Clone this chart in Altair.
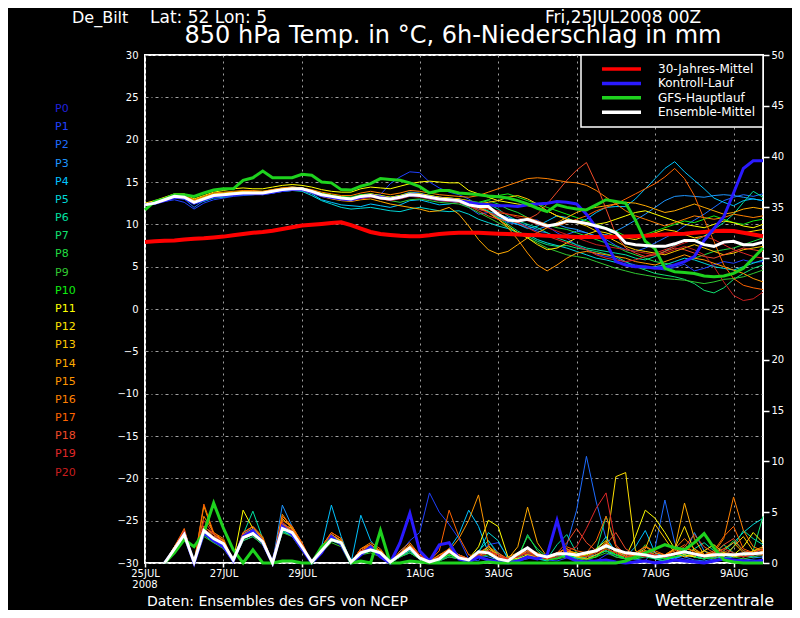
import altair as alt
import pandas as pd

FONT = "DejaVu Sans"
GRID = "#a0a0a0"
STEP = 0.25          # 6-hourly steps, in days from 25JUL2008 00Z
PREC_START = 2       # precipitation starts at +12h

x_domain = [0, 15.75]
tick_days = [0, 2, 4, 7, 9, 11, 13, 15]
tick_labels = ["25JUL", "27JUL", "29JUL", "1AUG", "3AUG", "5AUG", "7AUG", "9AUG"]
temp_ticks = list(range(-30, 31, 5))
prec_ticks = list(range(0, 51, 5))

member_names = [f"P{i}" for i in range(21)]
member_colors = ["#2121dd", "#2040ff", "#1e6cff", "#1e96ff", "#00c3ff", "#00d7d7",
                 "#00e0a0", "#10e070", "#20dc40", "#30c830", "#10ee10", "#ffff00",
                 "#ffe000", "#ffc800", "#ffaa00", "#ff9600", "#ff8000", "#ff6400",
                 "#f04a28", "#e02828", "#c81e1e"]

legend_names = ["30-Jahres-Mittel", "Kontroll-Lauf", "GFS-Hauptlauf", "Ensemble-Mittel"]
legend_colors = ["#ff0000", "#2a1aff", "#1ed21e", "#ffffff"]

# ---------------- 850 hPa temperature ----------------
temp_clim = [7.9,8.0,8.05,8.1,8.2,8.3,8.35,8.45,8.55,8.7,8.85,9.0,9.1,9.25,9.45,9.65,9.85,
             9.95,10.05,10.15,10.25,9.9,9.5,9.1,8.85,8.75,8.65,8.6,8.6,8.7,8.85,8.95,9.0,
             9.0,9.0,8.95,8.9,8.85,8.8,8.75,8.7,8.65,8.6,8.55,8.5,8.5,8.5,8.5,8.5,
             8.55,8.6,8.65,8.75,8.8,8.85,8.9,9.0,9.1,9.2,9.25,9.2,9.0,8.8,8.6]
temp_ctrl = [12.3,12.5,12.8,13.2,13.1,12.5,12.9,13.3,13.4,13.5,13.6,13.6,13.6,13.8,14.0,14.1,14.1,
             13.8,13.4,13.2,13.0,12.9,13.2,13.4,13.2,13.0,13.2,13.5,13.4,13.2,13.0,12.9,12.8,
             12.6,12.4,12.3,12.2,12.2,12.1,12.3,12.4,12.5,12.7,12.6,12.4,11.2,9.6,7.8,5.6,
             5.2,5.0,5.0,4.8,4.9,5.2,5.6,6.2,8.1,9.5,10.9,13.7,16.6,17.5,17.5]
temp_gfs = [11.7,12.7,13.0,13.5,13.5,13.3,13.7,14.05,14.2,14.2,15.2,15.5,16.3,15.5,15.5,15.5,15.9,
            15.8,15.0,14.9,14.1,14.05,14.5,14.8,15.4,15.3,15.2,14.9,14.45,13.7,14.0,14.0,13.7,
            13.6,13.5,13.35,13.25,13.1,12.8,12.4,11.9,11.5,12.3,12.0,11.8,11.7,12.3,12.9,12.7,
            12.5,10.5,8.0,7.1,4.8,4.4,4.3,4.2,3.9,3.8,3.9,4.2,4.8,6.0,7.2]
temp_mean = [12.3,12.5,12.9,13.3,13.2,12.6,13.0,13.4,13.5,13.6,13.7,13.7,13.7,13.9,14.1,14.2,14.2,
             13.9,13.5,13.3,13.1,13.0,13.3,13.4,13.1,13.0,13.2,13.5,13.4,13.2,13.0,12.9,12.8,
             12.3,12.1,12.1,11.2,10.5,10.4,10.6,10.2,9.8,10.0,10.4,10.3,10.1,9.8,9.5,9.0,
             7.8,7.6,7.5,7.4,7.4,7.7,8.1,8.1,7.6,7.4,7.9,8.0,7.6,7.6,7.9]

temp_members = {
    "P1": [12.2,12.5,12.7,12.9,12.6,11.8,12.5,12.9,13.1,13.3,13.4,13.5,13.6,13.7,14.0,14.1,14.0,
           13.7,13.3,13.1,13.0,12.9,13.2,13.4,13.5,14.8,15.6,16.2,16.1,15.0,14.3,13.8,13.5,
           13.0,12.2,11.5,11.0,10.8,10.5,10.6,10.5,9.8,9.0,8.4,7.5,7.0,6.5,6.2,6.0,
           5.5,5.2,5.0,4.8,4.6,4.9,5.3,4.5,4.8,5.2,5.6,5.4,5.8,5.5,5.6],
    "P2": [12.3,12.6,12.8,13.2,13.0,12.0,12.8,13.3,13.4,13.5,13.7,13.8,13.8,14.0,14.2,14.3,14.2,
           13.9,13.4,13.2,13.1,13.0,13.4,13.5,13.2,13.0,13.1,13.4,13.3,13.0,12.8,12.7,12.6,
           12.0,11.2,11.4,10.8,10.2,10.0,9.6,9.2,9.0,8.5,8.8,9.2,9.0,8.6,8.2,7.5,
           7.0,6.8,7.2,7.8,8.4,9.0,9.8,10.5,11.2,12.0,12.8,13.2,13.5,13.3,13.6],
    "P3": [12.4,12.7,13.0,13.2,13.1,12.5,12.9,13.5,13.6,13.7,13.8,13.9,13.8,14.0,14.2,14.4,14.3,
           14.0,13.6,13.4,13.2,13.2,13.5,13.6,13.4,13.2,13.4,13.8,13.7,13.4,13.2,13.1,13.0,
           12.6,12.0,11.5,11.2,10.8,10.2,9.8,9.4,9.8,10.0,9.6,9.4,9.0,8.6,8.8,9.2,
           9.8,10.5,11.2,12.0,12.8,13.3,13.4,13.3,13.2,13.4,13.5,13.4,13.2,13.0,12.8],
    "P4": [12.3,12.4,12.8,13.2,13.0,12.4,12.8,13.2,13.3,13.5,13.6,13.6,13.5,13.7,13.9,14.0,14.0,
           13.6,12.9,12.6,12.3,12.2,12.1,12.4,12.2,12.0,12.3,12.8,12.9,12.6,12.3,12.4,12.6,
           12.2,11.8,11.5,10.8,10.4,10.0,9.5,9.8,10.4,11.0,10.8,10.2,10.6,11.4,12.0,12.1,
           12.1,13.0,14.2,15.4,16.6,17.4,16.2,15.2,14.2,13.1,12.6,12.2,12.8,13.0,12.8],
    "P5": [12.2,12.5,12.8,13.1,13.0,12.5,12.7,13.1,13.2,13.4,13.5,13.5,13.6,13.7,13.9,14.0,13.9,
           13.4,12.8,12.4,12.0,11.8,11.9,12.0,11.8,11.6,11.5,11.8,12.0,11.8,11.6,11.5,11.6,
           11.2,10.6,10.2,9.8,9.5,9.0,8.8,8.2,7.8,7.5,7.2,6.8,6.4,6.0,5.8,5.5,
           5.3,5.0,4.8,5.0,5.2,5.6,6.0,5.8,5.4,5.0,4.8,4.6,5.0,5.4,5.8],
    "P6": [12.4,12.6,13.0,13.4,13.3,12.7,13.1,13.5,13.6,13.7,13.8,13.8,13.8,14.0,14.2,14.3,14.2,
           13.9,13.6,13.4,13.2,13.1,13.4,13.5,13.3,13.0,13.2,13.6,13.5,13.3,13.1,13.0,12.9,
           12.5,12.3,12.4,11.8,11.0,10.4,10.0,9.6,9.0,8.4,8.0,7.6,7.2,7.0,6.8,6.6,
           6.4,6.0,5.8,6.2,6.8,7.5,8.2,8.0,8.6,9.4,10.2,11.2,12.6,13.9,13.2],
    "P7": [12.3,12.6,12.9,13.3,13.2,12.6,13.0,13.5,13.6,13.7,13.8,13.8,13.8,14.0,14.1,14.2,14.1,
           13.8,13.5,13.3,13.1,13.0,13.3,13.4,13.2,13.0,13.3,13.5,13.4,13.2,13.0,12.9,12.9,
           12.4,12.0,11.6,10.8,10.0,9.2,8.6,8.0,7.6,7.4,7.5,7.2,7.0,6.8,6.5,6.2,
           5.6,5.0,4.6,4.2,4.0,3.8,3.5,3.0,2.2,1.9,2.5,3.5,4.2,4.8,5.2],
    "P8": [12.4,12.6,13.0,13.3,13.2,12.7,13.1,13.5,13.6,13.7,13.8,13.7,13.7,13.9,14.1,14.2,14.2,
           13.9,13.5,13.3,13.2,13.1,13.4,13.5,13.3,13.1,13.3,13.6,13.5,13.3,13.1,13.0,12.9,
           12.6,12.5,12.8,12.4,11.8,11.4,10.8,10.2,10.0,9.6,9.4,9.0,8.6,8.2,7.8,7.4,
           6.8,6.4,6.0,5.6,5.4,5.2,5.6,6.0,6.4,6.8,7.0,7.2,7.6,8.0,8.4],
    "P9": [12.3,12.5,12.9,13.2,13.1,12.6,12.9,13.3,13.4,13.6,13.6,13.7,13.6,13.8,14.0,14.1,14.1,
           13.8,13.4,13.2,13.0,12.9,13.1,13.3,13.1,12.8,12.6,12.9,13.0,12.8,12.6,12.5,12.4,
           12.0,11.4,10.8,10.2,9.6,9.0,8.4,7.8,7.2,6.8,6.4,6.2,6.0,5.6,5.2,4.8,
           4.5,4.2,4.0,3.8,3.6,3.5,3.4,3.2,3.0,3.2,3.5,3.6,3.8,4.2,4.6],
    "P10": [12.2,12.6,13.0,13.4,13.3,12.8,13.2,13.6,13.7,13.8,13.9,13.8,13.8,14.0,14.2,14.3,14.3,
            14.0,13.7,13.5,13.3,13.2,13.5,13.6,13.4,13.2,13.4,13.7,13.6,13.4,13.2,13.1,13.0,
            12.8,12.6,12.9,13.4,13.6,13.2,12.8,12.4,12.0,11.6,11.2,10.8,10.4,10.0,9.6,9.2,
            8.6,8.4,8.8,9.2,9.6,10.0,10.4,10.2,10.6,11.0,10.6,10.2,10.0,10.4,10.6],
    "P11": [12.5,12.8,13.2,13.6,13.6,13.0,13.4,13.8,14.0,14.2,14.3,14.2,14.2,14.4,14.6,14.7,14.6,
            14.4,14.1,13.9,13.8,13.8,14.2,14.4,14.3,14.2,14.5,14.8,15.0,15.1,15.0,14.9,14.9,
            14.0,13.6,13.2,12.8,12.6,12.4,12.2,12.0,11.6,11.0,10.6,10.4,10.2,10.0,10.2,10.6,
            11.0,11.4,11.6,11.2,10.8,10.4,10.0,9.8,9.6,10.0,10.4,10.2,9.8,9.6,10.0],
    "P12": [12.4,12.7,13.1,13.5,13.4,12.8,13.2,13.6,13.7,13.8,13.9,13.9,13.9,14.1,14.3,14.4,14.3,
            14.0,13.6,13.4,13.2,13.1,13.4,13.6,13.4,13.2,13.4,13.7,13.6,13.4,13.2,13.1,13.0,
            12.6,12.0,11.4,10.6,9.8,9.0,8.4,7.6,7.0,7.2,7.8,8.4,8.8,9.2,9.0,8.6,
            8.4,8.2,8.6,9.0,9.4,9.2,8.8,8.4,8.6,9.0,9.4,9.2,9.0,9.2,9.4],
    "P13": [12.3,12.6,13.0,13.4,13.3,12.8,13.1,13.5,13.6,13.7,13.8,13.8,13.8,14.0,14.2,14.3,14.2,
            13.9,13.6,13.3,13.1,13.0,13.3,13.5,13.3,13.1,13.3,13.6,13.6,13.4,13.2,13.1,13.0,
            12.8,12.4,12.6,12.8,13.2,13.4,13.0,12.4,11.6,11.0,10.6,10.2,9.8,9.2,8.6,8.0,
            7.4,7.0,6.8,6.6,6.4,6.8,7.2,7.6,7.2,6.8,6.4,6.6,7.0,7.2,7.4],
    "P14": [12.3,12.5,12.9,13.2,13.1,12.5,12.9,13.3,13.4,13.5,13.6,13.6,13.6,13.8,14.0,14.1,14.0,
            13.7,13.3,13.0,12.8,12.7,12.9,13.0,12.7,12.4,12.2,12.0,11.8,11.5,11.6,12.0,11.2,
            9.8,8.2,7.0,6.5,6.8,7.6,8.4,9.0,9.6,10.2,10.8,11.4,11.8,12.0,12.2,12.4,
            12.6,12.5,12.2,11.8,11.4,11.6,12.0,12.4,12.0,11.6,11.2,11.4,11.8,12.0,11.8],
    "P15": [12.4,12.7,13.1,13.4,13.3,12.7,13.1,13.5,13.6,13.7,13.8,13.8,13.7,13.9,14.1,14.2,14.2,
            13.9,13.5,13.3,13.1,13.0,13.3,13.5,13.3,13.1,13.3,13.5,13.4,13.2,13.0,12.9,12.8,
            12.4,12.0,11.4,10.6,9.6,8.2,6.6,5.2,4.5,5.2,6.0,6.6,6.8,6.6,6.4,6.2,
            6.0,5.6,5.4,5.2,5.6,6.0,6.4,6.0,5.8,5.4,5.0,4.6,4.2,3.6,3.2],
    "P16": [12.4,12.7,13.1,13.5,13.4,12.9,13.3,13.7,13.8,13.9,14.0,14.0,13.9,14.1,14.3,14.4,14.3,
            14.1,13.8,13.6,13.4,13.4,13.7,13.9,13.7,13.5,13.7,14.0,13.9,13.7,13.5,13.4,13.3,
            13.2,13.4,13.8,14.2,14.6,15.0,15.4,15.5,15.4,15.2,15.0,14.9,14.6,14.0,13.2,12.4,
            11.6,11.0,10.6,10.2,9.8,10.2,10.6,11.0,10.8,10.6,10.8,11.2,11.0,10.8,11.0],
    "P17": [12.3,12.6,13.0,13.4,13.2,12.7,13.0,13.4,13.5,13.6,13.7,13.7,13.7,13.9,14.1,14.2,14.1,
            13.8,13.4,13.2,13.0,12.9,13.2,13.4,13.2,13.0,13.2,13.5,13.4,13.2,13.0,12.9,12.8,
            12.4,12.0,11.8,11.4,11.2,11.0,10.8,10.4,10.0,9.8,10.2,10.6,11.0,11.6,12.0,12.4,
            13.0,13.6,14.2,14.8,15.6,16.6,15.4,13.4,10.6,8.0,5.2,3.6,2.8,2.5,2.3],
    "P18": [12.4,12.6,13.0,13.3,13.2,12.6,13.0,13.4,13.5,13.6,13.7,13.7,13.7,13.9,14.1,14.2,14.2,
            13.9,13.5,13.3,13.1,13.0,13.3,13.4,13.2,13.0,13.2,13.5,13.4,13.2,13.0,12.9,12.7,
            12.2,11.6,11.0,10.6,10.4,10.2,10.6,11.2,12.4,13.8,15.2,16.4,17.3,14.8,11.8,8.8,
            7.2,6.6,6.2,6.4,6.8,7.2,7.0,6.6,6.2,6.0,6.4,6.8,7.2,7.0,6.8],
    "P19": [12.3,12.5,12.9,13.2,13.1,12.6,12.9,13.3,13.4,13.5,13.6,13.6,13.6,13.8,14.0,14.1,14.1,
            13.8,13.4,13.1,12.9,12.8,13.0,13.2,13.0,12.8,13.0,13.3,13.2,13.0,12.8,12.7,12.6,
            12.2,11.8,11.4,11.0,10.6,10.2,9.6,9.0,8.6,8.2,7.8,7.4,7.0,6.4,6.0,5.8,
            5.6,5.8,6.2,6.6,7.0,7.4,7.8,8.2,8.6,8.2,7.6,7.0,6.6,6.2,6.0],
    "P20": [12.4,12.6,13.0,13.3,13.2,12.7,13.0,13.4,13.5,13.6,13.7,13.8,13.7,13.9,14.1,14.2,14.2,
            13.9,13.5,13.3,13.1,13.0,13.3,13.5,13.3,13.1,13.3,13.6,13.5,13.3,13.1,13.0,12.9,
            12.6,12.2,11.8,11.6,11.2,10.8,10.4,10.0,9.6,9.2,8.8,8.4,8.0,7.6,7.4,7.2,
            7.0,6.8,6.6,6.4,6.6,7.0,7.4,7.0,6.4,5.0,3.2,1.6,1.0,1.2,2.0],
}

# ---------------- 6h precipitation (mm), from +12h ----------------
prec_ctrl = [0,1.3,2.8,0,3.0,2.2,1.6,0.2,2.6,3.2, 2.0,0,3.6,2.8,1.4,0,1.0,2.6,1.8,0,
             0.8,1.6,0.6,0,2.0,4.9,1.2,0.2,1.8,2.0, 0.4,0.1,0.6,0.3,0.1,0,0.2,0.6,0.4,0.8,
             4.2,0.6,0.2,0.1,0.2,0.3,0.1,0,0.1,0.2, 0,0.1,0.3,0.2,0.1,0,0.2,0.4,0.3,0.2,0.1,0.3]
prec_gfs = [0,1.0,2.3,1.6,3.0,5.9,3.4,1.3,0,1.3, 0,0,0.2,0.2,0,0,1.6,2.3,2.0,0,
            0.2,0,3.2,0,0,0.2,0.1,0,0,0, 0,0,0,0.1,0,0,0,0,0,0,
            0,0,0,0,0,0,0,0.2,0.6,1.0, 1.4,1.8,1.5,1.3,2.0,2.9,1.5,0.3,0.1,0,0,0]
prec_mean = [0,1.4,2.8,0.1,3.2,2.4,1.9,0.3,2.5,2.9, 2.1,0,3.4,3.0,1.6,0.1,1.2,2.3,2.0,0.1,
             1.0,1.3,1.0,0.1,0.8,1.5,0.5,0.1,0.4,1.2, 0.5,0.3,1.1,1.0,0.4,0.2,0.9,1.5,0.8,0.6,
             0.9,0.9,0.8,1.0,1.2,1.7,1.3,1.0,0.9,0.8, 0.6,0.7,0.9,1.1,0.9,0.7,0.8,0.8,0.8,0.9,0.9,1.0]

prec_members = {
    "P1": [0,1.6,3.2,0,3.4,2.6,1.8,0.2,2.8,3.6, 2.2,0,4.0,3.2,1.8,0,1.4,2.8,2.2,0,
           1.2,1.4,0.8,0,1.0,2.2,3.0,6.9,5.0,3.8, 2.4,0.4,0.2,1.8,2.0,0.6,0.2,0.4,0.8,0.3,
           0.2,0.5,0.6,0.4,0.2,0.8,1.2,0.6,0.3,0.2, 0.1,0.3,0.6,0.4,0.2,0.1,0.2,0.4,0.3,0.1,0.2,0.3],
    "P2": [0,1.4,2.9,0,3.2,2.4,2.0,0.2,2.6,3.0, 2.0,0,3.6,3.0,1.6,0,1.2,2.4,2.0,0,
           1.0,1.2,0.9,0,0.8,1.4,0.6,0.1,0.4,1.0, 0.6,0.3,1.2,2.2,1.0,0.2,0.6,1.0,0.4,0.3,
           0.6,1.8,5.2,10.5,6.0,2.4,1.2,0.6,0.4,0.2, 1.5,6.2,2.0,0.6,0.3,0.2,0.4,0.3,0.2,0.4,0.3,0.2],
    "P3": [0,1.5,3.0,0,3.0,2.2,1.8,0.1,2.4,2.8, 2.2,0,5.7,3.6,1.8,0,1.4,2.6,2.2,0,
           1.2,1.6,1.2,0,0.6,1.2,0.4,0,0.2,0.6, 0.4,0.2,0.8,0.6,0.3,0.1,0.4,1.2,0.8,0.4,
           0.6,0.8,0.5,0.4,0.8,1.2,0.6,0.4,0.8,1.6, 1.0,0.6,0.4,0.8,3.0,1.2,0.6,0.4,0.6,0.8,0.5,0.6],
    "P4": [0,1.3,2.8,0,3.0,2.2,1.6,0.2,2.2,2.6, 1.8,0,3.0,2.8,1.4,0,1.6,5.7,2.6,0,
           4.7,2.2,1.0,0,0.6,1.2,0.4,0,0.3,1.4, 2.8,5.2,3.6,1.0,0.4,0.2,0.6,1.4,0.8,0.6,
           0.9,0.7,0.5,0.6,0.8,1.2,0.8,0.6,1.6,3.2, 1.0,0.6,0.5,0.8,0.6,0.4,0.6,0.5,0.7,0.8,0.6,0.9],
    "P5": [0,1.2,2.6,0,2.8,2.0,1.8,0.1,2.4,2.8, 2.0,0,3.2,2.6,1.4,0,1.0,2.2,1.8,0,
           0.8,1.2,0.8,0,0.6,1.0,0.4,0,0.2,0.8, 0.6,0.4,1.0,3.0,2.2,0.4,0.2,0.6,0.4,0.2,
           0.8,0.6,0.4,0.6,1.2,2.6,1.0,0.4,0.6,0.8, 0.4,0.2,0.6,1.0,0.8,0.4,0.6,1.2,2.0,3.0,3.8,4.4],
    "P6": [0,1.4,2.8,0,3.0,2.6,2.2,0.2,2.8,5.1, 2.4,0,3.4,3.0,1.6,0,1.2,2.2,2.0,0,
           1.0,1.4,1.0,0,0.8,1.6,0.6,0,0.4,1.0, 0.5,0.2,1.2,2.2,0.8,0.2,0.5,1.0,0.6,0.4,
           1.8,2.8,1.0,0.4,0.6,1.6,0.8,0.4,0.6,0.8, 0.5,0.4,0.6,0.8,1.4,2.0,1.2,0.6,1.6,3.2,2.4,1.8],
    "P7": [0,1.2,2.6,0,2.8,2.2,1.8,0.1,2.4,2.8, 2.0,0,3.2,2.8,1.4,0,1.0,2.4,1.8,0,
           0.8,1.2,0.8,0,0.6,1.2,0.4,0,0.3,0.8, 0.4,0.2,0.6,1.0,0.6,0.2,0.4,2.8,1.2,0.4,
           0.6,1.0,0.8,0.6,1.2,4.6,1.8,0.6,0.4,0.6, 0.4,0.2,0.8,1.2,0.6,0.4,0.8,1.8,1.0,0.6,1.2,4.6],
    "P8": [0,1.3,2.7,0,3.0,2.4,1.6,0.2,2.6,3.0, 2.2,0,3.6,3.2,1.6,0,1.2,2.4,2.0,0,
           1.0,1.4,1.0,0,0.8,1.4,0.6,0,0.4,0.8, 0.6,0.3,0.8,1.4,0.8,0.2,0.6,2.6,1.4,0.6,
           0.4,0.8,0.6,0.4,0.8,1.2,0.8,0.6,0.4,0.8, 0.6,0.4,0.8,1.0,0.6,0.4,0.6,1.2,2.2,1.2,0.8,1.0],
    "P9": [0,1.1,2.4,0,2.6,2.0,1.4,0.1,2.2,2.6, 1.8,0,3.0,2.6,1.2,0,1.0,2.0,1.6,0,
           0.8,1.0,0.6,0,0.6,1.0,0.4,0,0.2,0.6, 0.4,0.2,0.6,0.8,0.4,0.1,0.4,0.8,0.6,0.3,
           0.4,0.6,0.4,0.3,0.6,1.0,0.6,0.4,0.6,1.8, 0.8,0.4,0.6,0.8,1.4,0.6,0.4,0.8,0.6,0.4,0.6,0.8],
    "P10": [0,1.4,2.8,0,3.2,2.6,1.8,0.2,2.6,3.0, 2.2,0,3.4,3.0,1.6,0,1.2,2.6,2.0,0,
            1.0,1.4,1.0,0,0.8,1.4,0.6,0,0.4,0.8, 0.5,0.2,0.6,1.0,0.6,0.2,0.6,1.2,0.6,0.3,
            0.5,0.8,0.6,0.4,0.6,1.4,0.8,0.4,0.6,1.2, 0.8,0.4,0.6,1.0,0.8,0.6,0.8,1.2,0.8,0.6,0.8,1.0],
    "P11": [0,1.6,3.2,0,3.6,2.8,2.2,0.2,5.2,3.4, 2.4,0,3.8,3.4,1.8,0,1.4,2.6,2.2,0,
            1.2,1.6,1.2,0,1.0,1.8,0.8,0.1,0.6,1.4, 0.8,0.4,1.6,4.2,3.6,0.6,0.4,0.8,0.6,0.4,
            0.8,1.0,0.6,0.8,1.4,2.2,1.0,0.6,2.6,5.2, 4.4,3.0,1.4,0.8,0.6,1.2,1.8,1.0,0.8,1.6,3.0,2.0],
    "P12": [0,1.4,3.0,0,3.4,2.6,2.0,0.2,2.8,3.2, 2.4,0,3.6,3.2,1.8,0,1.2,2.4,2.2,0,
            1.0,1.4,1.0,0,0.8,1.4,0.6,0,0.4,1.0, 0.6,0.4,0.8,1.6,0.8,0.3,0.6,1.2,0.8,0.4,
            0.8,1.2,1.0,0.8,1.2,1.5,8.5,8.9,1.2,0.8, 0.6,0.8,1.4,3.6,1.2,0.6,0.8,1.0,0.6,0.8,1.2,1.4],
    "P13": [0,1.5,3.0,0,3.2,2.4,2.0,0.2,2.6,3.0, 2.2,0,3.6,3.2,1.6,0,1.4,2.6,2.0,0,
            1.2,1.4,1.0,0,1.0,1.6,0.6,0,0.6,1.2, 0.6,0.3,0.8,1.2,0.6,0.2,0.6,1.0,0.8,0.6,
            1.0,1.4,0.8,0.6,1.0,1.8,1.2,0.6,0.8,1.4, 3.8,2.4,1.0,0.6,0.8,1.2,0.8,0.6,1.6,2.6,1.2,0.8],
    "P14": [0,1.4,3.0,0,5.6,2.8,2.2,0.2,2.8,3.4, 2.4,0,4.4,3.4,1.8,0,1.4,2.8,2.2,0,
            1.2,1.8,1.2,0,1.0,1.6,0.8,0.1,0.6,1.2, 0.6,0.4,0.6,1.4,0.8,0.4,1.6,5.5,2.0,0.6,
            0.8,1.2,0.6,0.4,0.8,1.4,1.0,0.6,0.8,1.2, 0.8,0.6,1.4,5.9,2.4,0.8,0.6,1.0,0.8,0.6,1.2,1.6],
    "P15": [0,1.6,3.2,0,3.6,2.8,2.2,0.2,2.8,3.2, 2.4,0,4.8,3.4,1.8,0,1.4,2.8,2.2,0,
            1.4,1.8,1.2,0,1.0,1.8,0.8,0.1,0.8,1.2, 2.4,4.2,6.7,1.8,0.4,0.6,1.0,0.8,0.6,0.4,
            0.8,1.2,0.8,0.6,1.2,2.0,1.0,0.6,0.8,1.2, 0.8,0.6,1.0,1.4,1.2,0.8,1.0,1.4,2.0,1.0,0.8,1.2],
    "P16": [0,1.5,3.0,0,4.6,3.0,2.4,0.2,3.0,3.6, 2.6,0,4.2,3.6,2.0,0,1.6,3.0,2.4,0,
            1.4,2.0,1.4,0,1.2,2.0,0.8,0.2,0.8,1.4, 0.8,0.4,1.0,1.6,1.0,0.4,0.8,1.4,1.0,0.6,
            1.0,1.4,0.8,0.6,1.2,2.0,1.2,0.8,1.0,1.6, 1.0,0.8,1.4,2.4,1.4,0.8,1.0,2.4,6.5,3.2,1.6,1.2],
    "P17": [0,1.6,3.4,0,5.8,3.0,2.2,0.2,3.0,3.6, 2.4,0,4.6,3.6,2.0,0,1.6,3.0,2.4,0,
            1.4,1.8,1.2,0,1.0,1.8,0.8,0.2,1.2,5.2, 2.6,0.8,0.6,1.0,0.6,0.4,0.8,1.2,0.8,0.6,
            0.8,1.6,1.2,1.0,2.2,4.6,1.6,0.8,1.0,1.6, 1.2,0.8,1.2,1.8,1.0,0.8,1.2,2.6,3.6,1.4,1.0,1.4],
    "P18": [0,1.4,3.0,0,3.6,2.8,2.0,0.2,2.8,3.2, 2.2,0,3.8,3.2,1.8,0,1.4,2.6,2.0,0,
            1.2,1.6,1.0,0,0.8,1.6,0.8,0.1,0.6,1.4, 0.8,0.4,0.8,1.2,0.8,0.4,0.6,1.2,0.8,0.6,
            1.0,2.0,3.4,2.0,1.2,1.8,3.0,1.4,0.8,1.2, 0.8,0.6,1.0,1.6,2.8,1.6,1.0,1.8,2.4,1.2,1.0,1.4],
    "P19": [0,1.5,3.2,0,4.2,2.8,2.0,0.2,2.8,3.2, 2.2,0,4.0,3.2,1.8,0,1.4,2.6,2.0,0,
            1.2,1.6,1.0,0,0.8,1.6,0.8,0.1,0.6,1.2, 0.6,0.4,0.8,1.2,0.8,0.4,0.6,1.0,0.8,0.6,
            0.8,1.2,1.6,3.4,5.4,6.9,1.8,0.8,0.8,0.6, 0.8,0.6,0.8,1.2,0.8,0.6,0.8,1.4,1.0,0.6,0.8,1.0],
    "P20": [0,1.4,2.8,0,3.4,2.6,2.0,0.2,2.6,3.0, 2.0,0,3.6,3.0,1.6,0,1.2,2.4,2.0,0,
            1.0,1.4,1.0,0,0.8,1.4,0.6,0.1,0.4,1.0, 0.6,0.3,0.6,1.0,0.6,0.3,0.6,1.0,0.6,0.4,
            0.6,1.0,0.8,0.6,1.0,1.4,1.0,0.6,0.6,1.0, 0.8,0.6,0.8,1.0,0.8,0.6,0.8,1.2,0.8,0.6,0.8,0.8],
}


def long_df(series, start):
    rows = []
    for name, vals in series.items():
        for k, v in enumerate(vals):
            rows.append({"day": (start + k) * STEP, "val": v, "series": name})
    return pd.DataFrame(rows)


label_expr = "".join(f"datum.value == {d} ? '{l}' : " for d, l in zip(tick_days, tick_labels)) + "''"

x_enc = alt.X("day:Q", scale=alt.Scale(domain=x_domain, nice=False, zero=False),
              axis=alt.Axis(values=tick_days, labelExpr=label_expr, title=None, grid=True,
                            gridColor=GRID, gridDash=[2, 4], gridWidth=1, domain=False,
                            tickColor="white", tickSize=4, tickWidth=1.5, labelColor="white",
                            labelFont=FONT, labelFontSize=10, labelPadding=1,
                            labelFlush=False, labelOverlap=False))
y_temp = alt.Y("val:Q", scale=alt.Scale(domain=[-30, 30], nice=False, zero=False),
               axis=alt.Axis(values=temp_ticks, title=None, grid=True, gridColor=GRID,
                             gridDash=[3, 3, 1, 3], gridWidth=1, domain=False, ticks=False,
                             labelColor="white", labelFont=FONT, labelFontSize=10,
                             labelPadding=7))
y_prec = alt.Y("val:Q", scale=alt.Scale(domain=[0, 50], nice=False, zero=False),
               axis=alt.Axis(values=prec_ticks, orient="right", title=None, grid=False,
                             domain=False, tickColor="white", tickSize=6, tickWidth=1.5,
                             labelColor="white", labelFont=FONT, labelFontSize=10,
                             labelPadding=2))
color_enc = alt.Color("series:N", scale=alt.Scale(domain=member_names, range=member_colors),
                      legend=None)


def group(members, specials, start, y):
    layers = [alt.Chart(long_df(members, start)).mark_line(strokeWidth=1).encode(
        x=x_enc, y=y, color=color_enc, detail="series:N")]
    for name, vals, col, w in specials:
        layers.append(alt.Chart(long_df({name: vals}, start)).mark_line(
            color=col, strokeWidth=w).encode(x=x_enc, y=y))
    return alt.layer(*layers)


temp_layer = group(temp_members,
                   [("clim", temp_clim, legend_colors[0], 4),
                    ("ctrl", temp_ctrl, legend_colors[1], 3),
                    ("gfs", temp_gfs, legend_colors[2], 3),
                    ("mean", temp_mean, legend_colors[3], 3)], 0, y_temp)
prec_layer = group(prec_members,
                   [("ctrl", prec_ctrl, legend_colors[1], 3),
                    ("gfs", prec_gfs, legend_colors[2], 3),
                    ("mean", prec_mean, legend_colors[3], 3)], PREC_START, y_prec)

one = pd.DataFrame({"k": [0]})


def text(t, x, y, size, color="white", align="left", baseline="alphabetic"):
    return alt.Chart(one).mark_text(text=t, align=align, baseline=baseline, fontSize=size,
                                    font=FONT, color=color).encode(x=alt.value(x), y=alt.value(y))


decor = [
    text("De_Bilt", -73, -32, 16),
    text("Lat: 52 Lon: 5", 5, -32, 17),
    text("Fri,25JUL2008 00Z", 400, -32, 17),
    text("850 hPa Temp. in °C, 6h-Niederschlag in mm", 308, -12, 24, align="center"),
    text("2008", 0, 533, 10, align="center"),
    text("Daten: Ensembles des GFS von NCEP", 2, 551, 14),
    text("Wetterzentrale", 510, 551, 16),
]
for k, (n, c) in enumerate(zip(member_names, member_colors)):
    decor.append(text(n, -90, 54 + 18.18 * k, 11, color=c, baseline="middle"))

decor.append(alt.Chart(one).mark_rect(fill="black", stroke="white", strokeWidth=1.5).encode(
    x=alt.value(436), x2=alt.value(618), y=alt.value(0), y2=alt.value(72)))
for k, (n, c) in enumerate(zip(legend_names, legend_colors)):
    yy = 14 + 14.4 * k
    decor.append(alt.Chart(one).mark_rule(color=c, strokeWidth=3.5).encode(
        x=alt.value(457), x2=alt.value(496), y=alt.value(yy)))
    decor.append(text(n, 513, yy, 12, baseline="middle"))

chart = alt.layer(temp_layer, prec_layer, *decor).resolve_scale(y="independent").properties(
    width=618, height=508,
    padding={"left": 137, "top": 47, "right": 29, "bottom": 47},
    autosize=alt.AutoSizeParams(type="none"),
    background="#000000",
).configure_view(stroke="white", strokeWidth=2)

chart.save("out.html", embed_options={"renderer": "svg", "actions": False})
